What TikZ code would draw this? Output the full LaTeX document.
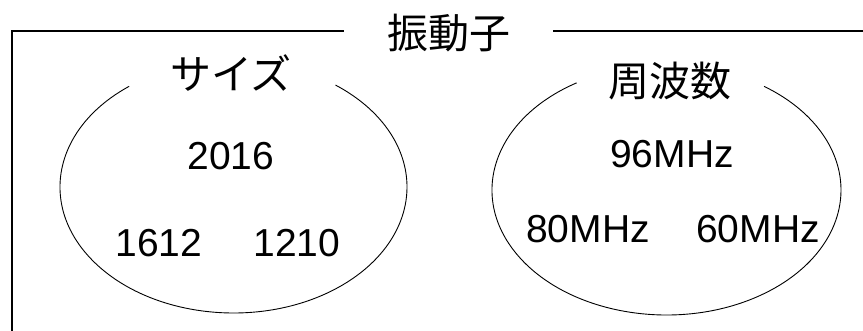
\documentclass[tikz,border=0pt]{standalone}
\usepackage{fontspec}
\setmainfont{Liberation Sans}
\newfontfamily\jp{Noto Sans CJK JP}
\tikzset{
  frameline/.style={line width=1.2pt, black},
  ovalline/.style={line width=0.9pt, black},
  jplabel/.style={inner sep=0pt, anchor=base, font=\jp\fontsize{41pt}{41pt}\selectfont},
  numlabel/.style={inner sep=0pt, anchor=base, font=\fontsize{39pt}{39pt}\selectfont},
}
\begin{document}
\begin{tikzpicture}[x=1pt,y=1pt]
\useasboundingbox (0,0) rectangle (863,331);
% frame
\coordinate (fb) at (12,-2);
\coordinate (fc) at (12,300);
\coordinate (fl) at (344,300);
\coordinate (fr) at (553,300);
\coordinate (fe) at (865,300);
\draw[frameline] (fb) -- (fc) -- (fl);
\draw[frameline] (fr) -- (fe);
\node[jplabel] (title) at (448.5,282) {振動子};
% left oval
\coordinate (lc) at (233.5,144);
\draw[ovalline] (lc) ++(127:173.5 and 126) arc[start angle=127, end angle=414, x radius=173.5, y radius=126];
\node[jplabel] (size) at (231,241.5) {サイズ};
\node[numlabel] (s2016) at (231,161) {2016};
\node[numlabel] (s1612) at (159,74) {1612};
\node[numlabel] (s1210) at (297,74) {1210};
% right oval
\coordinate (rc) at (666.5,141);
\draw[ovalline] (rc) ++(121:174.5 and 125) arc[start angle=121, end angle=416, x radius=174.5, y radius=125];
\node[jplabel] (freq) at (670,234) {周波数};
\node[numlabel] (f96) at (672,163) {96MHz};
\node[numlabel] (f80) at (588,88) {80MHz};
\node[numlabel] (f60) at (758,88) {60MHz};
\end{tikzpicture}
\end{document}
